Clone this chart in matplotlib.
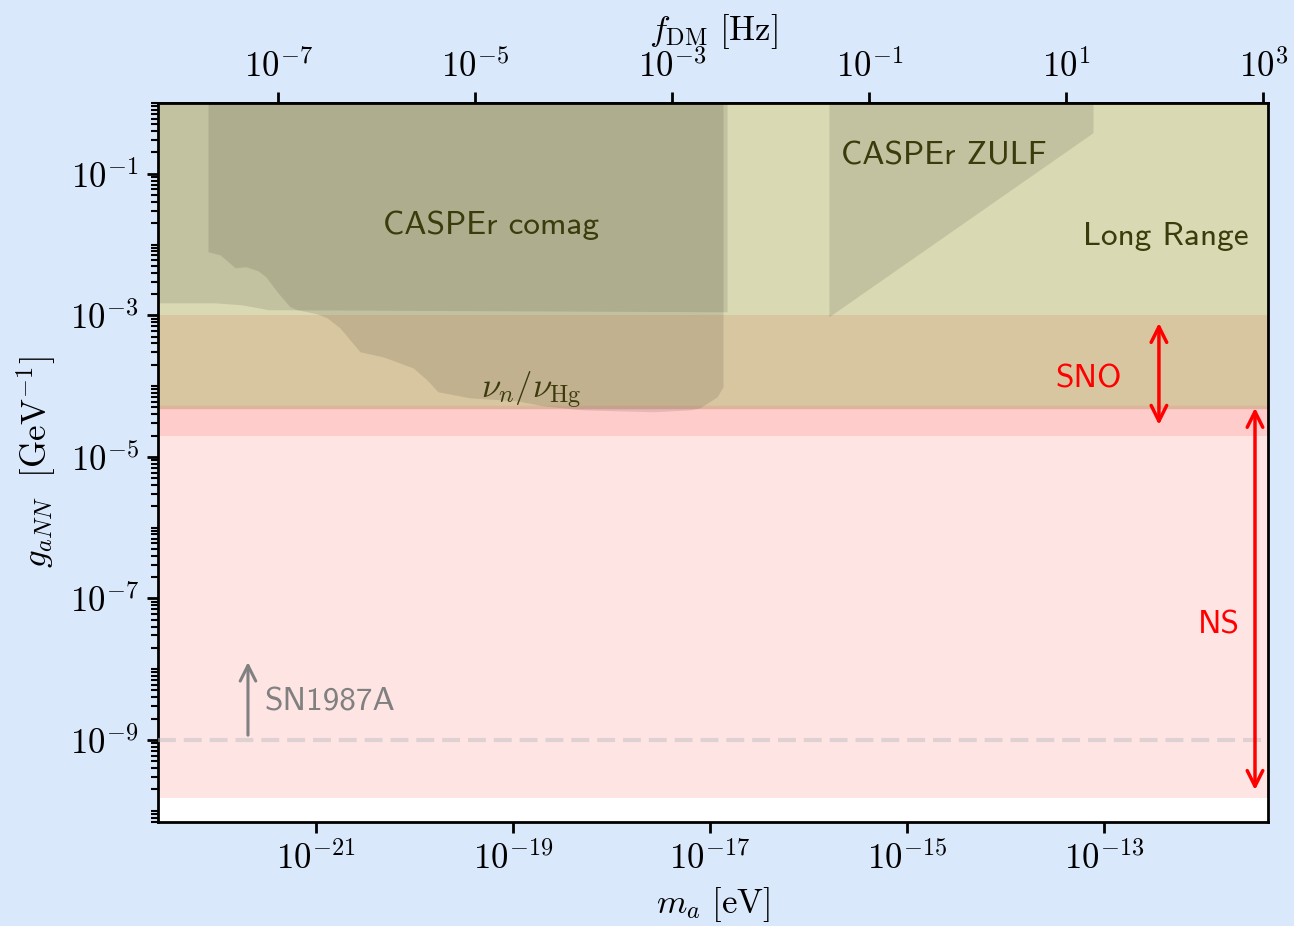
import numpy as np
import matplotlib
matplotlib.use("Agg")
import matplotlib.pyplot as plt

plt.rcParams['mathtext.fontset'] = 'cm'

H_EV_S = 4.135667e-15  # Planck constant, eV s

# axis ranges
m_lim = (2.49e-23, 4.62e-12)
g_lim = (6.93e-11, 1.0)

# CASPEr comag exclusion (lower edge)
comag_m = [1e-23, 9.44e-23, 1.73e-22, 2.58e-22, 3.26e-22, 1.49e-17]
comag_g = [1.50e-3, 1.50e-3, 1.41e-3, 1.28e-3, 1.20e-3, 1.12e-3]

# nu_n / nu_Hg exclusion (lower edge)
nuhg_m = [8.02e-23, 1.06e-22, 1.22e-22, 1.51e-22, 1.95e-22, 2.58e-22, 3.10e-22,
          4.11e-22, 5.45e-22, 6.41e-22, 9.33e-22, 1.02e-21, 1.29e-21, 1.75e-21,
          2.21e-21, 2.80e-21, 4.79e-21, 9.66e-21, 1.34e-20, 1.73e-20, 3.66e-20,
          1.10e-19, 2.02e-19, 5.14e-19, 2.64e-18, 6.27e-18, 7.91e-18, 1.18e-17,
          1.355e-17]
nuhg_g = [7.91e-3, 7.16e-3, 6.08e-3, 4.69e-3, 4.85e-3, 4.26e-3, 3.50e-3,
          2.08e-3, 1.32e-3, 1.20e-3, 1.08e-3, 1.05e-3, 9.23e-4, 6.65e-4,
          4.51e-4, 3.05e-4, 2.59e-4, 1.81e-4, 1.22e-4, 8.30e-5, 6.82e-5,
          6.19e-5, 5.26e-5, 4.61e-5, 4.33e-5, 4.61e-5, 4.93e-5, 7.05e-5,
          9.75e-5]

# CASPEr ZULF exclusion (lower edge)
zulf_m = [1.61e-16, 7.73e-14]
zulf_g = [9.53e-4, 0.380]

long_range_g = 1e-3      # long range bound
sno_g = (5.1e-5, 1e-3)   # SNO band
ns_overlap_g = (2e-5, 5.1e-5)
ns_g = (1.5e-10, 2e-5)   # neutron star band
sn1987a_g = 1e-9

bottom_exp = [-21, -19, -17, -15, -13]
top_exp = [-7, -5, -3, -1, 1, 3]
left_exp = [-1, -3, -5, -7, -9]

label_col = '#3b3b0c'
fs_tick = 25
fs_text = 24

fig = plt.figure(figsize=(12.94, 9.26), dpi=100, facecolor='#dae8fc')
ax = fig.add_axes([0.1221, 0.1123, 0.8578, 0.7765])
ax.set_xscale('log')
ax.set_yscale('log')
ax.set_xlim(*m_lim)
ax.set_ylim(*g_lim)

# background bands
ax.axhspan(long_range_g, 10, color='#d9d9b3', lw=0, zorder=1)
ax.axhspan(*sno_g, color='#d8c6a0', lw=0, zorder=1)
ax.axhspan(*ns_overlap_g, color='#ffcccc', lw=0, zorder=1)
ax.axhspan(*ns_g, color='#ffe4e4', lw=0, zorder=1)
ax.axhline(sno_g[0], color='#dfb49c', lw=2.5, zorder=1.5)

# experimental exclusions
ax.fill_between(comag_m, comag_g, 10, color='black', alpha=0.1, lw=0, zorder=2)
ax.fill_between(nuhg_m, nuhg_g, 10, color='black', alpha=0.1, lw=0, zorder=2)
ax.fill_between(zulf_m, zulf_g, 10, color='black', alpha=0.1, lw=0, zorder=2)

ax.axhline(sn1987a_g, color='silver', alpha=0.5, lw=3, dashes=[4.3, 1.9], zorder=3)

ax.text(5.98e-20, 0.0185, 'CASPEr comag', family='cmss10', fontsize=fs_text,
        color=label_col, ha='center', va='center', zorder=4)
ax.text(2.38e-15, 0.18, 'CASPEr ZULF', family='cmss10', fontsize=fs_text,
        color=label_col, ha='center', va='center', zorder=4)
ax.text(2.96e-12, 0.0128, 'Long Range', family='cmss10', fontsize=fs_text,
        color=label_col, ha='right', va='center', zorder=4)
ax.text(1.52e-19, 8.7e-5, r'$\nu_n/\nu_{\rm Hg}$', fontsize=fs_text + 1,
        color=label_col, ha='center', va='center', zorder=4)
ax.text(7.05e-14, 1.27e-4, 'SNO', family='cmss10', fontsize=fs_text,
        color='red', ha='center', va='center', zorder=4)
ax.text(1.47e-12, 4.23e-8, 'NS', family='cmss10', fontsize=fs_text,
        color='red', ha='center', va='center', zorder=4)
ax.text(3.03e-22, 3.4e-9, 'SN1987A', family='cmss10', fontsize=fs_text,
        color='#808080', ha='left', va='center', zorder=4)

arrow_kw = dict(arrowstyle='<->', color='red', lw=2.5, mutation_scale=28,
                shrinkA=0, shrinkB=0)
ax.annotate('', xy=(3.61e-13, 2.83e-5), xytext=(3.61e-13, 7.8e-4),
            arrowprops=arrow_kw, zorder=5)
ax.annotate('', xy=(3.41e-12, 1.96e-10), xytext=(3.41e-12, 4.93e-5),
            arrowprops=arrow_kw, zorder=5)
ax.annotate('', xy=(2.04e-22, 1.26e-8), xytext=(2.04e-22, 1.17e-9),
            arrowprops=dict(arrowstyle='->', color='#808080', lw=2.2,
                            mutation_scale=28, shrinkA=0, shrinkB=0), zorder=5)

# ticks
ax.set_xticks([10.0**e for e in bottom_exp])
ax.set_xticklabels([r'$10^{%d}$' % e for e in bottom_exp])
ax.xaxis.set_minor_locator(matplotlib.ticker.NullLocator())
ax.set_yticks([10.0**e for e in left_exp])
ax.set_yticklabels([r'$10^{%d}$' % e for e in left_exp])
minor_y = [k * 10.0**d for d in range(-11, 1) for k in range(1, 10)
           if not (k == 1 and d in left_exp)]
ax.yaxis.set_minor_locator(matplotlib.ticker.FixedLocator(minor_y))
ax.yaxis.set_minor_formatter(matplotlib.ticker.NullFormatter())
ax.tick_params(which='major', direction='out', length=8, width=2,
               labelsize=fs_tick, pad=6)
ax.tick_params(which='minor', direction='out', length=5, width=1.5)
for sp in ax.spines.values():
    sp.set_linewidth(2)

sec = ax.secondary_xaxis('top', functions=(lambda m: m / H_EV_S,
                                           lambda f: f * H_EV_S))
sec.set_xticks([10.0**e for e in top_exp])
sec.set_xticklabels([r'$10^{%d}$' % e for e in top_exp])
sec.xaxis.set_minor_locator(matplotlib.ticker.NullLocator())
sec.tick_params(direction='out', length=8, width=2, labelsize=fs_tick, pad=6)
sec.spines['top'].set_linewidth(2)
sec.set_xlabel(r'$f_{\rm DM}\ [\mathrm{Hz}]$', fontsize=fs_tick, labelpad=6)

ax.set_xlabel(r'$m_a\ [\mathrm{eV}]$', fontsize=fs_tick, labelpad=6)
ax.set_ylabel(r'$g_{aNN}\ \ [\mathrm{GeV}^{-1}]$', fontsize=fs_tick, labelpad=8)

fig.savefig('out.png', dpi=100, facecolor=fig.get_facecolor())
